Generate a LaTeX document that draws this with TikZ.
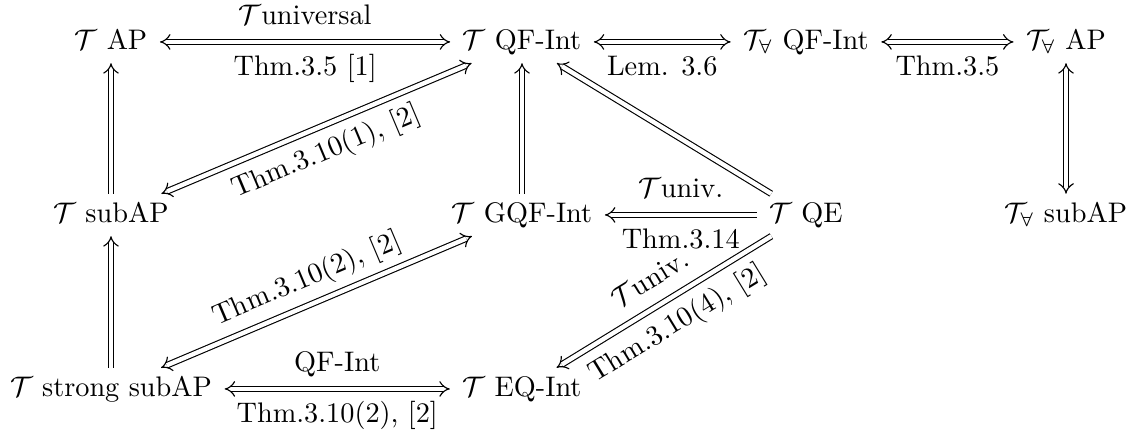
\documentclass[tikz,border=0pt]{standalone}
\usetikzlibrary{arrows.meta}
\begin{document}
\begin{tikzpicture}[x=0.3534pt,y=-0.3534pt,
  obj/.style={anchor=base, inner xsep=4.3pt, inner ysep=3.5pt, text height=6.3pt, text depth=1.3pt},
  imp/.style={double, double equal sign distance, line width=0.4pt, -{Implies}},
  biimp/.style={double, double equal sign distance, line width=0.4pt, {Implies}-{Implies}},
  lbl/.style={inner sep=3.5pt, text height=8pt, text depth=2.5pt}]
\useasboundingbox (0,0) rectangle (1135,433);
% nodes
\node[obj] (AP)   at (111,49)  {$\mathcal{T}$ AP};
\node[obj] (QF)   at (522,49)  {$\mathcal{T}$ QF-Int};
\node[obj] (AQF)  at (806,49)  {$\mathcal{T}_\forall$ QF-Int};
\node[obj] (AAP)  at (1066,49) {$\mathcal{T}_\forall$ AP};
\node[obj] (sub)  at (111,222) {$\mathcal{T}$ subAP};
\node[obj] (GQF)  at (522,222) {$\mathcal{T}$ GQF-Int};
\node[obj] (QE)   at (806,222) {$\mathcal{T}$ QE};
\node[obj] (Asub) at (1066,222) {$\mathcal{T}_\forall$ subAP};
\node[obj] (ssub) at (111,396) {$\mathcal{T}$ strong subAP};
\node[obj] (EQ)   at (522,396) {$\mathcal{T}$ EQ-Int};
% top row
\draw[biimp] (AP) -- (QF)
  node[lbl,midway,above] {$\mathcal{T}$universal}
  node[lbl,midway,below] {Thm.3.5 [1]};
\draw[biimp] (QF) -- (AQF)
  node[lbl,midway,below] {Lem. 3.6};
\draw[biimp] (AQF) -- (AAP)
  node[lbl,midway,below] {Thm.3.5};
% verticals
\draw[imp] (sub) -- (AP);
\draw[imp] (ssub) -- (sub);
\draw[imp] (GQF) -- (QF);
\draw[biimp] (AAP) -- (Asub);
% diagonals
\draw[biimp] (sub) -- (QF)
  node[lbl,midway,sloped,below] {Thm.3.10(1), [2]};
\draw[biimp] (ssub) -- (GQF)
  node[lbl,midway,sloped,above] {Thm.3.10(2), [2]};
\draw[imp] (QE) -- (QF);
\draw[imp] (QE) -- (GQF)
  node[lbl,midway,above] {$\mathcal{T}$univ.}
  node[lbl,midway,below] {Thm.3.14};
\draw[double, double equal sign distance, line width=0.4pt, {Implies}-] (EQ) -- (QE)
  node[lbl,midway,sloped,above] {$\mathcal{T}$univ.}
  node[lbl,midway,sloped,below] {Thm.3.10(4), [2]};
% bottom row
\draw[biimp] (ssub) -- (EQ)
  node[lbl,midway,above] {QF-Int}
  node[lbl,midway,below] {Thm.3.10(2), [2]};
\end{tikzpicture}
\end{document}
